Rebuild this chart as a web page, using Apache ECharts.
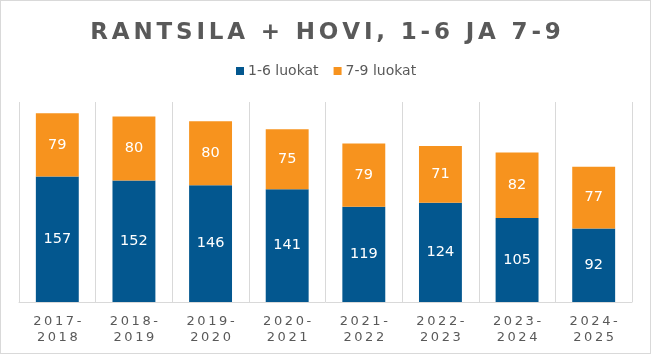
<!DOCTYPE html>
<html>
<head>
<meta charset="utf-8">
<script src="https://cdn.jsdelivr.net/npm/echarts@6/dist/echarts.min.js"></script>
<style>
  html, body { margin: 0; padding: 0; background: #fff; }
  #chart { width: 651px; height: 354px; box-sizing: border-box; border: 1px solid #d9d9d9; }
</style>
</head>
<body>
<div id="chart"></div>
<script>
const years = ['2017-2018', '2018-2019', '2019-2020', '2020-2021', '2021-2022', '2022-2023', '2023-2024', '2024-2025'];
const luokat16 = [157, 152, 146, 141, 119, 124, 105, 92];
const luokat79 = [79, 80, 80, 75, 79, 71, 82, 77];

const grey = '#595959';
const font = '"DejaVu Sans", Verdana, sans-serif';

// no letter-spacing in canvas text, so pad between characters
const spaced = (s, gap) => s.split('').join(gap);

const chart = echarts.init(document.getElementById('chart'));
chart.setOption({
  animation: false,
  title: {
    text: spaced('RANTSILA + HOVI, 1-6 JA 7-9', '\u2006'),
    left: 'center',
    top: 16,
    textStyle: {
      fontFamily: font,
      fontSize: 23,
      fontWeight: 'bold',
      color: grey,
    },
  },
  legend: {
    top: 58,
    left: 230,
    itemWidth: 8,
    itemHeight: 8,
    itemGap: 15,
    icon: 'rect',
    textStyle: { fontFamily: font, fontSize: 14, color: grey, padding: [0, 0, 0, -1] },
  },
  grid: {
    top: 101,
    left: 18,
    right: 18,
    bottom: 51,
  },
  xAxis: {
    type: 'category',
    data: years,
    axisLine: { lineStyle: { color: '#d9d9d9' } },
    axisTick: { show: false },
    splitLine: { show: true, interval: 0, lineStyle: { color: '#d9d9d9' } },
    axisLabel: {
      interval: 0,
      margin: 12,
      fontFamily: font,
      fontSize: 13,
      lineHeight: 16,
      color: grey,
      formatter: (v) => v.split('-').map((p, i) => spaced(i === 0 ? p + '-' : p, '\u2009')).join('\n'),
    },
  },
  yAxis: {
    type: 'value',
    show: false,
    min: 0,
    max: 250,
  },
  series: [
    {
      name: '1-6 luokat',
      type: 'bar',
      stack: 'total',
      barWidth: '56%',
      data: luokat16,
      itemStyle: { color: '#03578f' },
      label: { show: true, position: 'inside', color: '#fff', fontFamily: font, fontSize: 14.5 },
    },
    {
      name: '7-9 luokat',
      type: 'bar',
      stack: 'total',
      data: luokat79,
      itemStyle: { color: '#f7931e' },
      label: { show: true, position: 'inside', color: '#fff', fontFamily: font, fontSize: 14.5 },
    },
  ],
});
</script>
</body>
</html>
